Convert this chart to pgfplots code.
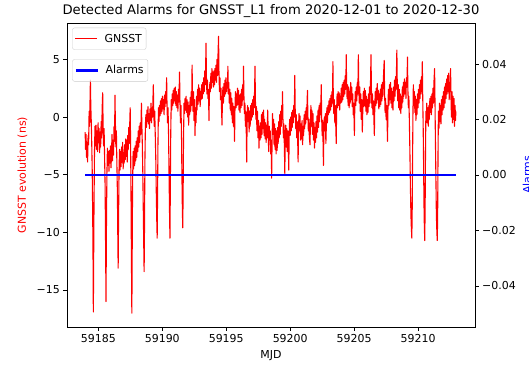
\documentclass[border=0pt]{standalone}
\usepackage{fontspec}
\setmainfont{DejaVu Sans}
\usepackage{pgfplots}
\usepackage{pgfplotstable}
\pgfplotsset{compat=1.18}

\pgfplotstableread{
x y
59183.97 -1.3
59184.00 -2.8
59184.04 -1.5
59184.08 -3.5
59184.12 -2.2
59184.16 -3.9
59184.20 -1.6
59184.24 -2.4
59184.28 0.5
59184.32 -0.8
59184.36 2.0
59184.38 3.2
59184.41 1.0
59184.45 -0.5
59184.48 -2.0
59184.52 -4.5
59184.55 -7.5
59184.58 -11.0
59184.61 -16.9
59184.63 -13.0
59184.66 -8.0
59184.70 -3.0
59184.74 -0.8
59184.78 -2.5
59184.82 -0.7
59184.86 -2.8
59184.90 -1.2
59184.94 -3.0
59184.98 -0.5
59185.02 -2.2
59185.06 -1.0
59185.10 -3.1
59185.14 -1.3
59185.18 -2.6
59185.22 -0.4
59185.26 -1.8
59185.30 0.8
59185.34 2.1
59185.37 -0.5
59185.41 -2.5
59185.45 -1.0
59185.49 -3.5
59185.53 -6.0
59185.57 -11.5
59185.60 -16.0
59185.63 -10.0
59185.67 -5.0
59185.71 -2.7
59185.75 -4.2
59185.79 -3.0
59185.83 -4.7
59185.87 -2.9
59185.91 -4.0
59185.95 -2.5
59185.99 -4.4
59186.03 -3.2
59186.07 -1.5
59186.11 -3.8
59186.15 -2.0
59186.19 -3.3
59186.23 -0.8
59186.27 -2.1
59186.30 1.9
59186.33 -0.3
59186.37 -2.6
59186.41 -1.2
59186.45 -4.0
59186.49 -6.5
59186.52 -10.0
59186.55 -13.1
59186.58 -9.0
59186.62 -4.5
59186.66 -2.8
59186.70 -4.6
59186.74 -3.0
59186.78 -4.3
59186.82 -2.6
59186.86 -3.9
59186.90 -2.2
59186.94 -4.5
59186.98 -3.1
59187.02 -4.0
59187.06 -2.4
59187.10 -3.7
59187.14 -1.9
59187.18 -3.4
59187.22 -2.0
59187.26 -3.9
59187.30 -1.6
59187.34 -2.8
59187.38 -0.9
59187.42 -2.3
59187.46 -0.4
59187.49 0.8
59187.52 -2.0
59187.55 -6.0
59187.58 -11.0
59187.62 -17.0
59187.65 -11.0
59187.68 -5.5
59187.72 -3.0
59187.76 -4.5
59187.80 -2.7
59187.84 -4.2
59187.88 -2.5
59187.92 -3.8
59187.96 -2.1
59188.00 -3.5
59188.04 -1.8
59188.08 -3.0
59188.12 -1.2
59188.16 -2.6
59188.20 -0.8
59188.24 -2.2
59188.28 -0.5
59188.32 -1.5
59188.37 1.2
59188.40 -0.6
59188.44 -2.4
59188.48 -5.0
59188.52 -8.5
59188.55 -11.0
59188.58 -13.4
59188.61 -9.5
59188.64 -4.0
59188.68 -0.7
59188.72 0.2
59188.76 -0.9
59188.80 0.6
59188.84 -0.4
59188.88 0.9
59188.92 -0.6
59188.96 0.3
59189.00 -1.0
59189.04 0.7
59189.08 -0.3
59189.12 1.2
59189.16 -0.5
59189.20 0.8
59189.24 0.0
59189.27 1.5
59189.30 2.8
59189.33 0.6
59189.37 -0.8
59189.41 0.5
59189.45 -1.5
59189.49 -3.5
59189.53 -6.5
59189.57 -9.0
59189.60 -10.5
59189.63 -7.0
59189.66 -2.5
59189.70 0.8
59189.74 -0.4
59189.78 1.0
59189.82 0.1
59189.86 1.4
59189.90 0.3
59189.94 1.6
59189.98 0.5
59190.02 1.8
59190.06 0.7
59190.10 1.5
59190.14 0.2
59190.18 1.9
59190.22 0.9
59190.26 2.2
59190.30 1.2
59190.34 3.4
59190.37 1.0
59190.41 -0.5
59190.45 0.8
59190.49 -1.5
59190.53 -5.0
59190.57 -8.5
59190.60 -10.5
59190.63 -6.0
59190.66 -1.5
59190.70 1.5
59190.74 0.6
59190.78 2.0
59190.82 1.0
59190.86 2.3
59190.90 1.2
59190.94 2.5
59190.98 1.4
59191.02 2.6
59191.06 1.0
59191.10 2.2
59191.14 0.8
59191.18 1.9
59191.22 0.5
59191.26 2.4
59191.30 1.3
59191.35 3.9
59191.38 1.5
59191.42 -0.5
59191.46 1.0
59191.50 -1.3
59191.53 -4.5
59191.57 -8.0
59191.60 -9.6
59191.63 -6.5
59191.66 -2.0
59191.70 1.2
59191.74 0.3
59191.78 1.6
59191.82 0.6
59191.86 1.8
59191.90 0.4
59191.94 1.5
59191.98 0.0
59192.02 1.3
59192.06 -0.7
59192.10 1.0
59192.14 0.2
59192.18 1.7
59192.22 0.5
59192.26 2.2
59192.30 1.0
59192.33 4.5
59192.36 2.0
59192.40 0.5
59192.44 2.2
59192.48 -0.3
59192.52 1.5
59192.56 -1.6
59192.60 0.8
59192.64 -0.5
59192.68 1.8
59192.72 0.6
59192.76 2.4
59192.80 1.1
59192.84 2.8
59192.88 1.4
59192.92 2.5
59192.96 0.9
59193.00 2.2
59193.04 1.5
59193.08 2.8
59193.12 1.6
59193.16 3.0
59193.20 2.0
59193.24 3.4
59193.28 2.2
59193.32 4.0
59193.36 2.8
59193.40 5.0
59193.42 6.4
59193.45 3.5
59193.49 2.0
59193.53 3.2
59193.57 1.6
59193.61 2.4
59193.65 -0.3
59193.68 1.8
59193.72 3.0
59193.76 2.2
59193.80 3.8
59193.84 2.5
59193.88 4.2
59193.92 3.0
59193.96 3.9
59194.00 2.6
59194.04 4.0
59194.08 2.8
59194.12 4.2
59194.16 3.2
59194.20 4.5
59194.24 3.0
59194.28 5.0
59194.32 3.6
59194.36 5.5
59194.40 7.0
59194.43 4.0
59194.47 2.2
59194.51 3.4
59194.55 1.5
59194.59 2.5
59194.63 0.8
59194.67 -0.7
59194.70 1.5
59194.74 2.6
59194.78 1.2
59194.82 2.9
59194.86 1.8
59194.90 3.2
59194.94 2.0
59194.98 3.4
59195.02 2.2
59195.06 3.0
59195.10 2.5
59195.13 4.4
59195.16 2.0
59195.20 3.0
59195.24 1.2
59195.28 2.4
59195.32 0.6
59195.36 2.1
59195.40 0.2
59195.44 1.6
59195.48 -0.5
59195.52 1.2
59195.56 -0.8
59195.60 0.9
59195.65 -2.1
59195.68 0.5
59195.72 2.2
59195.76 0.8
59195.80 2.0
59195.84 1.0
59195.88 2.5
59195.92 1.1
59195.96 2.3
59196.00 0.6
59196.04 1.9
59196.08 0.4
59196.12 2.0
59196.16 0.8
59196.20 2.4
59196.24 1.0
59196.28 2.8
59196.32 1.5
59196.35 4.4
59196.38 2.0
59196.42 0.3
59196.46 1.2
59196.50 -0.8
59196.54 0.5
59196.57 -1.5
59196.60 -3.9
59196.63 -0.5
59196.67 1.0
59196.71 -0.4
59196.75 0.8
59196.79 -1.3
59196.83 0.5
59196.87 -0.8
59196.91 1.0
59196.95 -0.3
59196.99 1.2
59197.03 0.0
59197.07 1.5
59197.11 0.2
59197.15 1.8
59197.19 0.8
59197.22 2.5
59197.25 4.4
59197.28 1.5
59197.32 -0.2
59197.36 0.9
59197.40 -1.2
59197.44 0.5
59197.48 -1.8
59197.52 -0.3
59197.56 -2.7
59197.60 -0.8
59197.64 -2.0
59197.68 -0.5
59197.72 -1.8
59197.76 0.2
59197.80 -1.5
59197.84 0.4
59197.88 -1.0
59197.92 0.6
59197.96 -1.6
59198.00 -0.2
59198.04 -1.9
59198.08 -0.5
59198.12 -2.2
59198.16 -0.7
59198.20 -1.8
59198.24 0.6
59198.28 -1.2
59198.32 -3.0
59198.36 -0.8
59198.40 -2.0
59198.44 -1.2
59198.48 -3.2
59198.52 -2.0
59198.55 -5.3
59198.58 -2.5
59198.62 0.3
59198.66 -1.5
59198.70 -0.2
59198.74 -2.4
59198.78 -0.6
59198.82 -2.8
59198.86 -1.0
59198.90 -3.2
59198.94 -1.2
59198.98 -2.9
59199.02 -0.9
59199.06 -2.3
59199.10 -0.4
59199.14 -1.8
59199.18 0.2
59199.22 -1.5
59199.26 0.5
59199.30 -0.8
59199.34 1.0
59199.38 -0.2
59199.40 2.2
59199.43 0.0
59199.47 -1.8
59199.51 -0.6
59199.55 -2.8
59199.58 -4.9
59199.61 -2.0
59199.65 -0.7
59199.69 -2.6
59199.73 -1.0
59199.77 -3.0
59199.81 -1.2
59199.85 -2.4
59199.89 -4.6
59199.92 -1.5
59199.96 -0.2
59200.00 -1.6
59200.04 0.0
59200.08 -1.2
59200.12 0.4
59200.16 -0.9
59200.20 0.6
59200.24 -0.5
59200.28 1.0
59200.32 0.0
59200.36 3.6
59200.39 0.8
59200.43 -1.0
59200.47 0.2
59200.51 -1.8
59200.55 -0.4
59200.59 -2.2
59200.62 -3.9
59200.65 -1.0
59200.69 0.3
59200.73 -1.2
59200.77 0.1
59200.81 -2.0
59200.85 -0.6
59200.89 -1.9
59200.93 -0.3
59200.97 -2.4
59201.01 -0.8
59201.05 -1.6
59201.09 0.2
59201.13 -1.0
59201.17 0.5
59201.21 -0.6
59201.25 0.8
59201.29 -0.2
59201.32 1.2
59201.35 2.3
59201.38 0.3
59201.42 -1.2
59201.46 -0.2
59201.50 -1.8
59201.55 -2.4
59201.58 -0.6
59201.62 1.0
59201.66 -0.8
59201.70 0.6
59201.74 -1.5
59201.78 0.3
59201.82 -2.0
59201.86 -0.5
59201.90 -2.7
59201.94 -0.9
59201.98 -2.2
59202.02 -0.4
59202.06 -1.8
59202.10 0.1
59202.14 -1.3
59202.18 0.6
59202.22 -0.9
59202.26 1.0
59202.30 -0.4
59202.34 1.2
59202.38 0.2
59202.43 2.8
59202.46 0.0
59202.50 -1.6
59202.54 -0.3
59202.57 -2.2
59202.60 -4.2
59202.63 -1.5
59202.67 0.0
59202.71 -1.2
59202.75 0.3
59202.79 -2.3
59202.83 -0.6
59202.87 0.8
59202.91 -0.5
59202.95 1.0
59202.99 0.2
59203.03 1.4
59203.07 0.4
59203.11 1.6
59203.15 0.6
59203.19 1.9
59203.23 0.9
59203.27 2.2
59203.31 1.2
59203.34 4.8
59203.37 1.8
59203.41 0.3
59203.45 1.5
59203.49 -0.5
59203.53 1.0
59203.57 -1.0
59203.60 -2.3
59203.63 0.6
59203.67 2.0
59203.71 0.8
59203.75 2.2
59203.79 1.0
59203.83 2.1
59203.87 0.6
59203.91 1.8
59203.95 1.2
59203.99 2.5
59204.03 1.3
59204.07 2.8
59204.11 1.5
59204.15 3.0
59204.19 1.8
59204.23 3.2
59204.27 2.0
59204.31 3.6
59204.35 2.4
59204.38 5.4
59204.41 3.0
59204.45 1.6
59204.49 2.8
59204.53 1.0
59204.57 2.6
59204.61 0.8
59204.65 2.2
59204.69 1.2
59204.73 3.0
59204.77 1.5
59204.81 2.6
59204.85 0.9
59204.89 2.0
59204.93 0.2
59204.97 1.2
59205.02 -1.6
59205.05 0.8
59205.09 2.2
59205.13 1.0
59205.17 2.6
59205.21 1.4
59205.25 3.0
59205.29 2.0
59205.33 5.4
59205.36 2.8
59205.40 1.2
59205.44 2.6
59205.48 0.5
59205.52 2.0
59205.56 -0.2
59205.60 1.5
59205.64 -1.3
59205.68 0.8
59205.72 2.2
59205.76 0.9
59205.80 2.5
59205.84 1.0
59205.88 2.3
59205.92 0.5
59205.96 1.8
59206.00 0.2
59206.04 1.5
59206.08 0.4
59206.12 2.0
59206.16 0.9
59206.20 2.6
59206.24 1.2
59206.28 3.0
59206.32 5.4
59206.35 2.4
59206.39 0.8
59206.43 2.0
59206.47 0.2
59206.51 1.4
59206.55 -0.4
59206.58 -1.6
59206.61 0.6
59206.65 2.2
59206.69 1.0
59206.73 2.5
59206.77 1.2
59206.81 2.9
59206.85 1.5
59206.89 2.3
59206.93 0.7
59206.97 2.0
59207.01 0.9
59207.05 2.4
59207.09 1.1
59207.13 2.8
59207.17 1.4
59207.21 3.0
59207.25 1.8
59207.29 3.4
59207.35 4.9
59207.38 2.2
59207.42 0.4
59207.46 1.6
59207.50 -0.2
59207.54 1.0
59207.58 -0.6
59207.61 -2.1
59207.64 0.5
59207.68 2.4
59207.72 1.0
59207.76 2.8
59207.80 1.5
59207.84 3.0
59207.88 1.2
59207.92 2.5
59207.96 0.8
59208.00 2.2
59208.04 0.6
59208.08 2.6
59208.12 1.4
59208.16 3.2
59208.20 1.8
59208.24 3.5
59208.28 2.4
59208.31 4.0
59208.34 5.8
59208.37 3.0
59208.41 1.4
59208.45 2.8
59208.49 0.8
59208.53 2.4
59208.57 0.6
59208.61 2.0
59208.65 0.3
59208.69 1.8
59208.73 0.8
59208.77 2.6
59208.81 1.3
59208.85 3.0
59208.89 1.8
59208.93 3.3
59208.97 2.0
59209.01 3.0
59209.05 1.6
59209.09 3.4
59209.13 2.6
59209.17 5.2
59209.20 2.5
59209.24 0.8
59209.28 1.8
59209.32 -0.5
59209.36 -3.0
59209.40 -6.0
59209.44 -8.5
59209.47 -9.5
59209.51 -10.5
59209.54 -8.0
59209.57 -3.5
59209.60 0.5
59209.63 2.8
59209.67 1.0
59209.71 2.2
59209.75 0.4
59209.79 1.8
59209.83 -0.3
59209.87 1.5
59209.91 0.2
59209.95 2.0
59209.99 0.8
59210.03 2.4
59210.07 1.2
59210.11 2.8
59210.15 1.6
59210.19 3.2
59210.23 2.0
59210.27 3.5
59210.30 2.2
59210.33 4.8
59210.36 2.0
59210.40 -1.0
59210.43 -4.0
59210.46 -7.5
59210.49 -9.5
59210.52 -10.7
59210.55 -8.0
59210.58 -3.0
59210.61 0.5
59210.64 -0.3
59210.68 1.2
59210.72 -0.5
59210.76 0.8
59210.80 -0.8
59210.84 1.0
59210.88 -0.2
59210.92 1.6
59210.96 0.4
59211.00 1.8
59211.04 0.2
59211.08 2.0
59211.12 0.8
59211.16 2.5
59211.20 1.2
59211.24 3.0
59211.29 4.2
59211.32 1.5
59211.35 -1.5
59211.39 -5.0
59211.43 -8.5
59211.47 -10.0
59211.50 -10.7
59211.53 -8.5
59211.56 -3.0
59211.59 0.5
59211.63 -1.0
59211.67 1.2
59211.71 -0.4
59211.75 1.0
59211.79 -0.6
59211.83 1.5
59211.87 0.2
59211.91 1.8
59211.95 0.6
59211.99 2.2
59212.03 0.8
59212.07 2.6
59212.11 1.2
59212.15 2.9
59212.19 1.6
59212.23 3.3
59212.27 2.0
59212.31 3.6
59212.35 2.2
59212.39 3.8
59212.43 1.5
59212.47 3.0
59212.51 2.2
59212.54 4.2
59212.57 1.8
59212.61 0.0
59212.65 2.2
59212.69 -0.5
59212.73 1.8
59212.77 -0.2
59212.81 1.6
59212.85 -0.8
59212.89 1.0
59212.93 -0.3
59212.95 0.5
}\gnsst

\pgfplotstableread{
x y
59183.97 0
59212.95 0
}\alarms

\pgfplotsset{
  mystyle/.style={
    at={(0,0)}, anchor=south west, scale only axis,
    width=408bp, height=304bp,
    xmin=59182.55, xmax=59214.45,
    scaled ticks=false,
    tick align=outside,
    major tick length=3.7bp,
    every tick/.style={black, line width=0.8bp},
    axis line style={line width=0.8bp},
    tick label style={font=\fontsize{11}{13}\selectfont, black},
    label style={font=\fontsize{11}{13}\selectfont},
    legend cell align=left,
    legend image code/.code={\draw[##1] (0bp,0bp) -- (22bp,0bp);},
  },
  mylegend/.style={
    legend style={at={(axis description cs:0.013,#1)}, anchor=north west,
      draw=black!20, rounded corners=2bp, fill=white, fill opacity=0.8,
      text opacity=1, draw opacity=1,
      inner xsep=2.2bp, inner ysep=4bp,
      font=\fontsize{11}{13}\selectfont,
      nodes={inner sep=2bp},
      /tikz/every odd column/.append style={column sep=4.8bp}},
  },
}

\begin{document}
\begin{tikzpicture}
\begin{axis}[
  mystyle,
  ymin=-18.2, ymax=8.15,
  xtick={59185,59190,59195,59200,59205,59210},
  xticklabels={59185,59190,59195,59200,59205,59210},
  ytick={-15,-10,-5,0,5},
  yticklabels={−15,−10,−5,0,5},
  xtick pos=bottom, ytick pos=left,
  xlabel={MJD},
  xlabel style={at={(axis description cs:0.5,0)}, yshift=-28.5bp, anchor=center},
  ylabel={GNSST evolution (ns)},
  ylabel style={red, at={(axis description cs:0,0.5)}, anchor=center, yshift=44.5bp},
  title={Detected Alarms for GNSST\_L1 from 2020-12-01 to 2020-12-30},
  title style={font=\fontsize{13.2}{15}\selectfont, at={(axis description cs:0.5,1)}, yshift=6bp, anchor=center},
  mylegend=0.9845,
]
\addplot[red, line width=1.1bp, line join=round] table {\gnsst};
\addlegendentry{GNSST}
\end{axis}
\begin{axis}[
  mystyle,
  ymin=-0.0548, ymax=0.0548,
  axis x line=none,
  axis y line*=right,
  ytick={-0.04,-0.02,0,0.02,0.04},
  yticklabels={−0.04,−0.02,0.00,0.02,0.04},
  ytick pos=right,
  ylabel={Alarms},
  ylabel style={blue, at={(axis description cs:1,0.5)}, anchor=center, yshift=-52bp},
  mylegend=0.8806,
]
\addplot[blue, line width=2.2bp] table {\alarms};
\addlegendentry{Alarms}
\end{axis}
\pgfresetboundingbox
\useasboundingbox (-67bp,-38bp) rectangle (462bp,327bp);
\end{tikzpicture}
\end{document}
